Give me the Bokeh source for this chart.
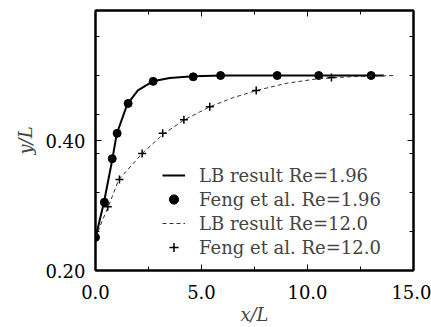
from bokeh.plotting import figure
from bokeh.models import FixedTicker, LinearAxis, PrintfTickFormatter, Legend, LegendItem, CustomLabelingPolicy
from bokeh.embed import file_html
from bokeh.resources import INLINE

# LB result, Re = 1.96 (solid line)
lb196_x = [0.0, 0.4, 0.8, 1.0, 1.5, 2.0, 2.7, 3.5, 4.6, 6.0, 8.0, 10.0, 12.0, 13.6]
lb196_y = [0.250, 0.305, 0.372, 0.410, 0.456, 0.477, 0.491, 0.496, 0.499, 0.500, 0.500, 0.500, 0.500, 0.500]
# Feng et al., Re = 1.96 (circles)
feng196_x = [0.0, 0.42, 0.79, 1.02, 1.54, 2.72, 4.61, 5.9, 8.57, 10.53, 13.0]
feng196_y = [0.251, 0.305, 0.372, 0.411, 0.457, 0.491, 0.498, 0.500, 0.500, 0.500, 0.500]
# LB result, Re = 12.0 (dashed line)
lb12_x = [0.0, 0.3, 0.6, 1.1, 2.2, 3.2, 4.2, 5.4, 6.5, 7.6, 9.0, 10.5, 12.0, 14.1]
lb12_y = [0.250, 0.275, 0.298, 0.340, 0.380, 0.410, 0.432, 0.452, 0.466, 0.477, 0.488, 0.495, 0.498, 0.500]
# Feng et al., Re = 12.0 (plus markers)
feng12_x = [0.0, 0.58, 1.13, 2.2, 3.17, 4.17, 5.39, 7.58, 11.13]
feng12_y = [0.251, 0.298, 0.340, 0.380, 0.411, 0.432, 0.452, 0.477, 0.497]

x_major = [0.0, 5.0, 10.0, 15.0]
x_minor = [2.5, 7.5, 12.5]
y_major = [0.20, 0.40]
y_minor = [0.26, 0.32, 0.38, 0.44, 0.50, 0.56]

labels = ["LB result Re=1.96", "Feng et al. Re=1.96", "LB result Re=12.0", "Feng et al. Re=12.0"]

FONT = "DejaVu Serif"
FS = "18px"

p = figure(width=431, height=327, output_backend="svg", toolbar_location=None,
           x_range=(0, 15), y_range=(0.2, 0.6),
           min_border_left=95, min_border_top=10, min_border_right=18, min_border_bottom=51)
p.outline_line_color = "black"
p.outline_line_width = 2
p.grid.visible = False
p.background_fill_color = "white"
p.border_fill_color = "white"

r1 = p.line(lb196_x, lb196_y, line_color="black", line_width=2)
r2 = p.scatter(feng196_x, feng196_y, marker="circle", size=8, fill_color="black", line_color="black")
r3 = p.line(lb12_x, lb12_y, line_color="#333333", line_width=1, line_dash="4 3")
r4 = p.scatter(feng12_x, feng12_y, marker="cross", size=8, line_color="black", line_width=1.5)

def style(ax, ticks, minor, fmt, show_labels):
    ax.ticker = FixedTicker(ticks=ticks, minor_ticks=minor)
    ax.formatter = PrintfTickFormatter(format=fmt)
    ax.major_tick_in = 6
    ax.major_tick_out = 0
    ax.minor_tick_in = 4
    ax.minor_tick_out = 0
    ax.axis_line_width = 2
    ax.major_tick_line_width = 1
    ax.major_label_text_font = FONT
    ax.major_label_text_color = "black"
    if show_labels:
        ax.major_label_text_font_size = FS
        ax.major_label_standoff = 10
    else:
        ax.major_label_text_font_size = "1px"
        ax.major_label_standoff = 0
        ax.major_label_policy = CustomLabelingPolicy(
            code="for (let i = 0; i < indices.size; i++) { indices.unset(i) } return indices")

style(p.xaxis[0], x_major, x_minor, "%.1f", True)
style(p.yaxis[0], y_major, y_minor, "%.2f", True)
p.xaxis[0].major_label_standoff = 14
p.xaxis[0].axis_label = "x/L"
p.yaxis[0].axis_label = "y/L"
for ax in (p.xaxis[0], p.yaxis[0]):
    ax.axis_label_text_font = FONT
    ax.axis_label_text_font_style = "italic"
    ax.axis_label_text_font_size = FS
p.xaxis[0].axis_label_standoff = 2
p.yaxis[0].axis_label_standoff = 6

top = LinearAxis()
style(top, x_major, x_minor, "%.1f", False)
p.add_layout(top, "above")
right = LinearAxis()
style(right, y_major, y_minor, "%.2f", False)
p.add_layout(right, "right")

legend = Legend(items=[LegendItem(label=labels[0], renderers=[r1]),
                       LegendItem(label=labels[1], renderers=[r2]),
                       LegendItem(label=labels[2], renderers=[r3]),
                       LegendItem(label=labels[3], renderers=[r4])],
                location=(67, 11), background_fill_alpha=0, border_line_color=None,
                label_text_font=FONT, label_text_font_size=FS, glyph_width=23, glyph_height=24,
                label_height=24, spacing=0, padding=0, margin=0, label_standoff=14)
p.add_layout(legend, "center")

open("out.html", "w").write(file_html(p, INLINE))
